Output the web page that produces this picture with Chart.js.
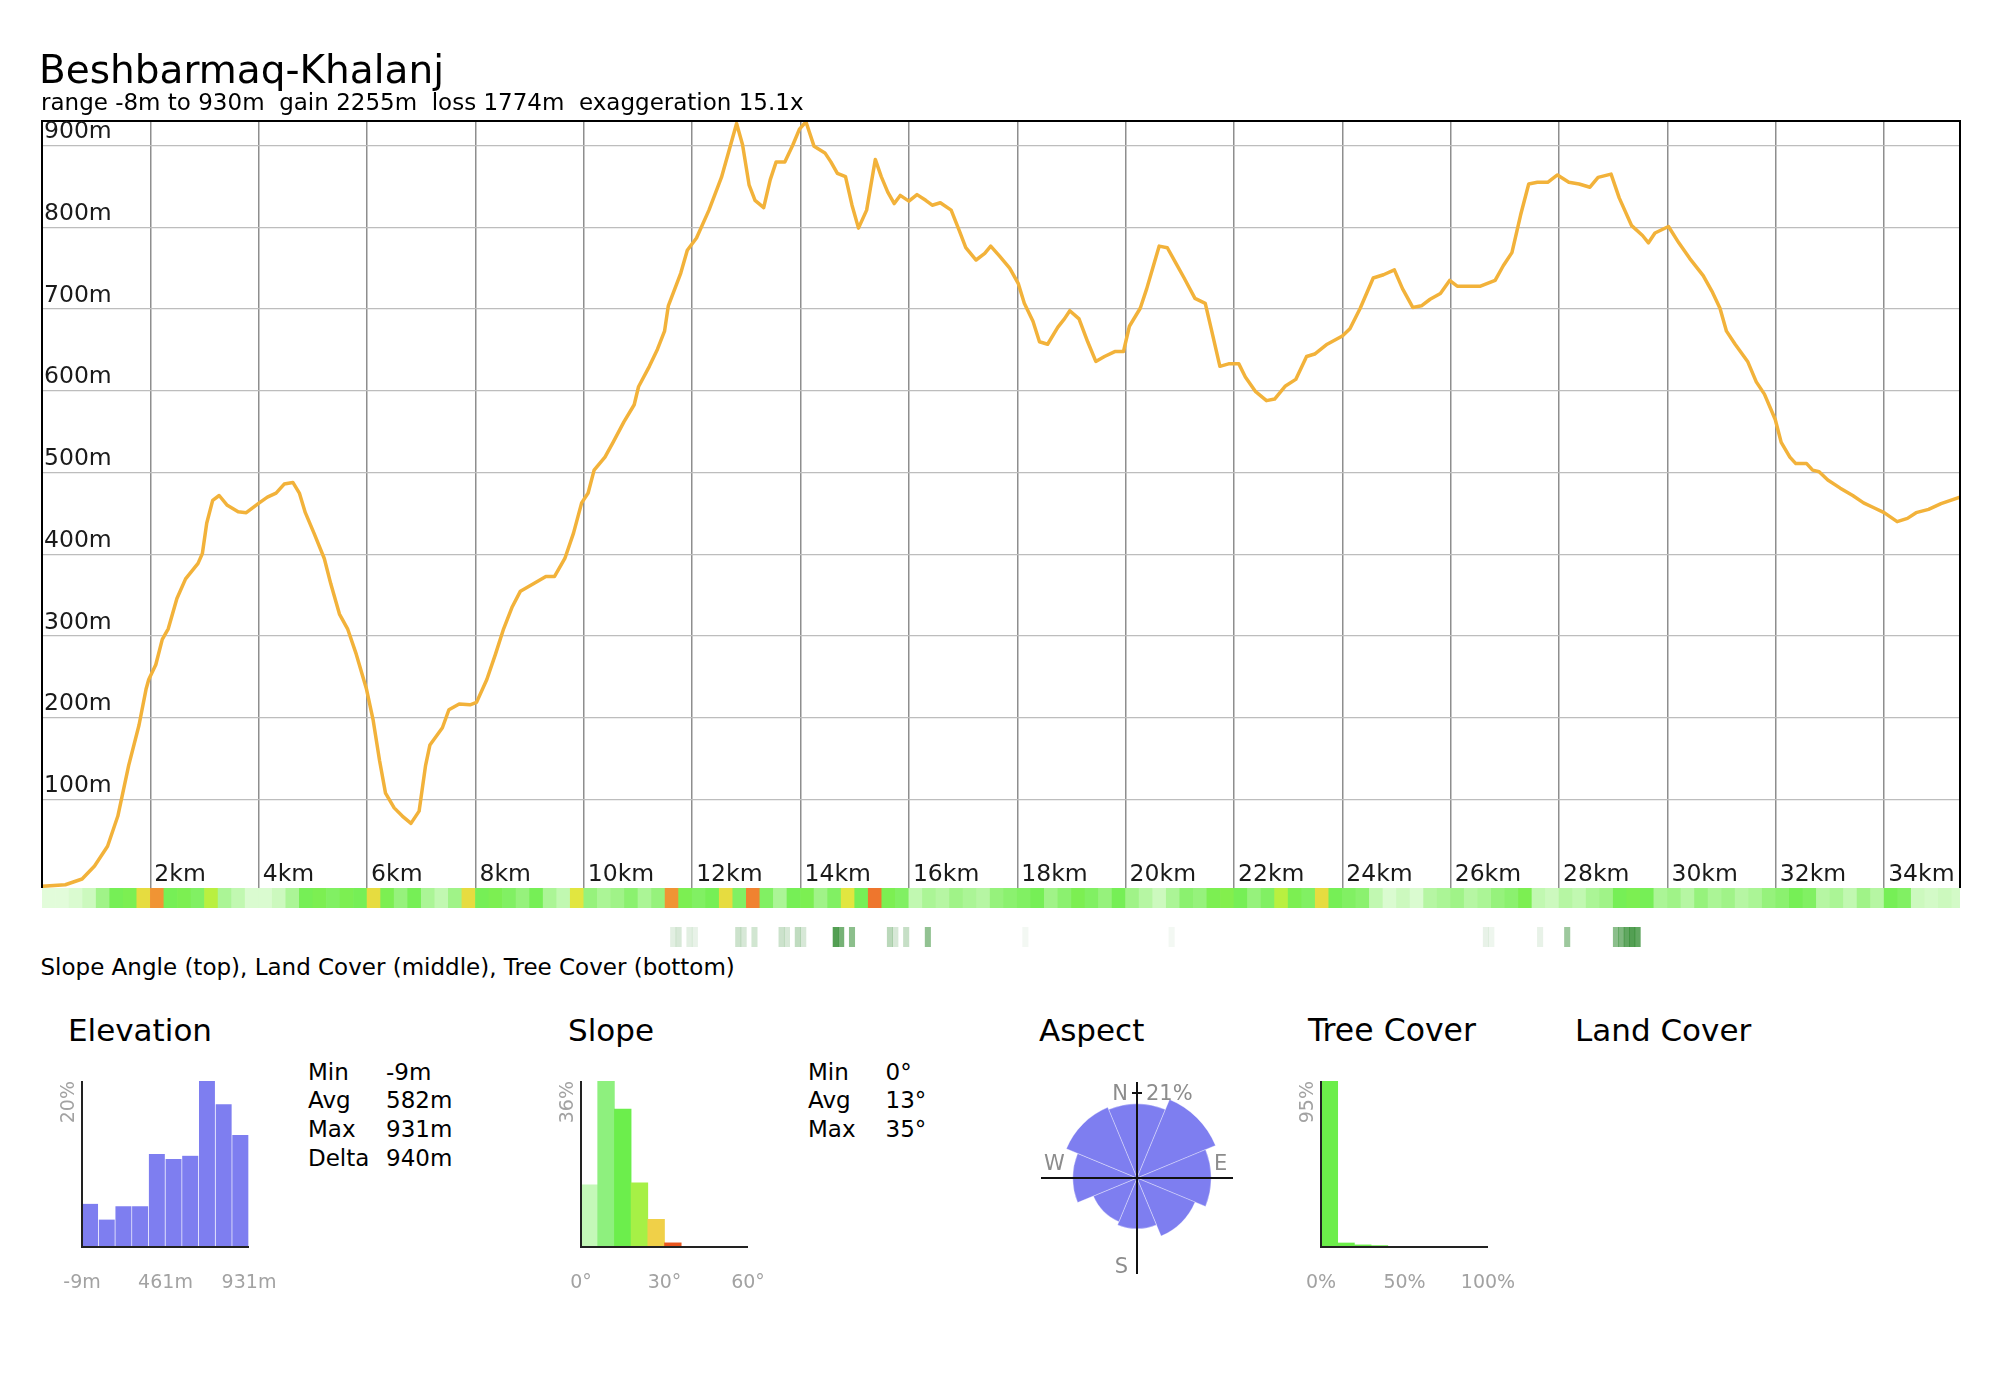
<!DOCTYPE html>
<html>
<head>
<meta charset="utf-8">
<title>Beshbarmaq-Khalanj</title>
<script src="https://cdn.jsdelivr.net/npm/chart.js@4.4.1/dist/chart.umd.min.js"></script>
<style>
  html, body { margin: 0; padding: 0; background: #fff; }
  #page { position: relative; width: 2004px; height: 1390px; overflow: hidden;
          font-family: "DejaVu Sans", "Noto Sans", sans-serif; color: #000; }
  #page canvas { position: absolute; }
  .txt { position: absolute; white-space: pre; line-height: 1; }
</style>
</head>
<body>
<div id="page"></div>
<script>
(() => {
  'use strict';

  // ---- elevation profile (distance km / elevation m)
  const distKm = [
    0.00, 0.43, 0.74, 0.97, 1.21, 1.40, 1.60, 1.79, 1.92, 1.97, 2.10, 2.22, 2.33, 2.49, 2.65, 2.88,
    2.96, 3.04, 3.15, 3.27, 3.42, 3.62, 3.77, 4.01, 4.16, 4.32, 4.47, 4.63, 4.75, 4.86, 5.02, 5.21,
    5.33, 5.49, 5.64, 5.80, 5.99, 6.11, 6.23, 6.34, 6.50, 6.65, 6.81, 6.96, 7.08, 7.16, 7.39, 7.51,
    7.70, 7.90, 8.02, 8.21, 8.37, 8.52, 8.68, 8.83, 9.07, 9.30, 9.46, 9.65, 9.81, 9.96, 10.08, 10.19,
    10.39, 10.54, 10.74, 10.93, 11.01, 11.21, 11.36, 11.49, 11.56, 11.79, 11.91, 12.08, 12.31, 12.54,
    12.66, 12.82, 12.93, 13.05, 13.16, 13.32, 13.44, 13.55, 13.71, 13.86, 13.98, 14.10, 14.25, 14.45,
    14.56, 14.68, 14.83, 14.95, 15.07, 15.22, 15.38, 15.49, 15.61, 15.73, 15.84, 16.00, 16.15, 16.31,
    16.43, 16.58, 16.78, 16.93, 17.05, 17.24, 17.40, 17.51, 17.67, 17.86, 18.02, 18.13, 18.29, 18.41,
    18.56, 18.75, 18.87, 18.97, 19.14, 19.30, 19.45, 19.61, 19.80, 19.96, 20.07, 20.27, 20.39, 20.50,
    20.62, 20.77, 20.93, 21.08, 21.28, 21.47, 21.59, 21.74, 21.90, 22.09, 22.21, 22.40, 22.60, 22.75,
    22.95, 23.14, 23.34, 23.49, 23.72, 24.00, 24.14, 24.33, 24.57, 24.76, 24.96, 25.11, 25.30, 25.46,
    25.62, 25.81, 25.98, 26.12, 26.35, 26.55, 26.82, 26.97, 27.13, 27.29, 27.44, 27.60, 27.79, 27.97,
    28.18, 28.37, 28.57, 28.72, 28.96, 29.11, 29.34, 29.54, 29.65, 29.77, 30.02, 30.21, 30.41, 30.66,
    30.82, 30.97, 31.09, 31.25, 31.48, 31.64, 31.79, 31.99, 32.10, 32.26, 32.37, 32.57, 32.68, 32.80,
    32.96, 33.19, 33.42, 33.62, 33.81, 34.00, 34.24, 34.43, 34.59, 34.82, 35.05, 35.40
  ];
  const elevM = [
    -6, -4, 3, 19, 43, 80, 142, 191, 235, 247, 265, 296, 309, 346, 370, 389,
    401, 438, 466, 472, 460, 452, 451, 463, 470, 475, 486, 488, 475, 451, 426, 395,
    364, 327, 309, 278, 235, 198, 148, 108, 90, 80, 71, 86, 142, 167, 188, 210,
    217, 216, 219, 247, 278, 309, 336, 355, 364, 373, 373, 395, 426, 463, 475, 503,
    519, 537, 562, 583, 605, 630, 651, 673, 704, 744, 772, 787, 821, 861,
    889, 927, 901, 852, 833, 824, 858, 880, 880, 901, 920, 929, 899, 891,
    880, 866, 862, 827, 799, 821, 883, 862, 843, 829, 839, 832, 840, 833,
    827, 830, 821, 796, 775, 760, 768, 777, 765, 750, 731, 707, 685, 660,
    657, 678, 688, 698, 688, 660, 636, 642, 648, 648, 679, 701, 725, 750,
    777, 775, 756, 738, 713, 707, 673, 630, 633, 633, 617, 599, 588, 590,
    606, 614, 642, 645, 657, 667, 676, 701, 738, 742, 748, 725, 702, 704,
    712, 719, 735, 728, 728, 728, 735, 753, 769, 815, 853, 855, 855, 864,
    855, 853, 849, 861, 865, 836, 802, 790, 781, 793, 801, 781, 762, 741,
    722, 701, 673, 657, 636, 611, 596, 565, 537, 519, 511, 511, 503, 501,
    491, 481, 472, 463, 457, 451, 440, 444, 451, 455, 462, 470
  ];
  const distTicksKm = [2, 4, 6, 8, 10, 12, 14, 16, 18, 20, 22, 24, 26, 28, 30, 32, 34];
  const elevTicksM  = [100, 200, 300, 400, 500, 600, 700, 800, 900];

  // ---- slope angle band: degrees per 0.25 km sample
  const SLOPE_STEP_KM = 0.25;
  const slopeDeg = [
     2,  2,  3,  5,  9, 13, 14, 24, 29, 13, 14, 12, 20,  8,  6,  3,  3,  5,  8, 13,
    14, 12, 14, 13, 24, 14, 10, 13,  8,  6,  9, 24, 13, 14, 12, 10, 13,  8,  6, 23,
    10,  8,  9, 11,  8, 10, 29, 14, 12, 13, 24, 12, 30, 12,  8, 13, 14,  9, 12, 23,
    13, 31, 14, 12,  6,  8,  7,  9,  8,  7, 10, 11, 12, 13,  9, 11, 14, 12, 10, 13,
     9,  7,  5,  8, 11, 10, 14, 15, 13, 10, 12, 20, 14, 12, 24, 13, 12, 11,  6,  3,
     5,  3,  7,  8,  9,  7,  8, 10, 11, 14,  6,  5,  7,  6,  8,  9, 13, 14, 13,  8,
     9,  7, 10,  8,  9,  7,  8, 10, 11, 13, 12,  7,  8,  6,  9,  7, 13, 12,  5,  4,
     5,  4
  ];

  // ---- tree cover band: 0.1 km samples that have any cover (%)
  const treeKm    = [11.6, 11.7, 11.9, 12.0, 12.8, 12.9, 13.1, 13.6, 13.7, 13.9, 14.0, 14.6, 14.7,
                     14.9, 15.6, 15.7, 15.9, 16.3, 18.1, 20.8, 26.6, 26.7, 27.6, 28.1,
                     29.0, 29.1, 29.2, 29.3, 29.4];
  const treeCover = [10, 14, 10, 8, 18, 14, 16, 18, 14, 22, 14, 60, 48,
                     40, 24, 14, 20, 38, 4, 4, 8, 6, 8, 34,
                     40, 45, 55, 60, 55];

  // ---- summary histograms
  const elevBins = ['-9', '85', '179', '273', '367', '461', '555', '649', '743', '837'];
  const elevPct  = [5.2, 3.3, 4.9, 4.9, 11.2, 10.6, 11.0, 20.0, 17.2, 13.5];
  const elevAxisLabels = ['-9m', '461m', '931m'];
  const elevStatNames  = ['Min', 'Avg', 'Max', 'Delta'];
  const elevStatValues = ['-9m', '582m', '931m', '940m'];

  const slopeBins = ['0', '6', '12', '18', '24', '30', '36', '42', '48', '54'];
  const slopePct  = [13.5, 36.0, 29.9, 13.9, 6.0, 0.9, 0, 0, 0, 0];
  const slopeAxisLabels = ['0°', '30°', '60°'];
  const slopeStatNames  = ['Min', 'Avg', 'Max'];
  const slopeStatValues = ['0°', '13°', '35°'];

  const aspectDirs = ['N', 'NE', 'E', 'SE', 'S', 'SW', 'W', 'NW'];
  const aspectPct  = [16, 21, 16, 11.5, 7.5, 6.5, 12, 17];

  const treeBins = ['0', '10', '20', '30', '40', '50', '60', '70', '80', '90'];
  const treePct  = [95, 2.3, 1.2, 0.8, 0.4, 0.2, 0.1, 0, 0, 0];
  const treeAxisLabels = ['0%', '50%', '100%'];

  // ---- styles / layout
  const FONT = '"DejaVu Sans", "Noto Sans", sans-serif';
  const LINE = 'rgb(242,178,58)';
  const BLUE = 'rgb(126,126,240)';
  const GREY = '#a2a2a2';
  const PLOT = { left: 42, top: 121, right: 1960, bottom: 888 };
  const X_MAX = 35.4;
  const slopeBarColors = ['#c4f8b8', '#8ef07e', '#6cee4c', '#a6f046', '#f0d048', '#ea561e',
                          '#eee', '#eee', '#eee', '#eee'];
  const slopeStops = [
    [0, [240, 254, 236]], [5, [204, 249, 190]], [9, [160, 243, 136]], [13, [118, 239, 86]],
    [18, [150, 240, 64]], [22, [220, 240, 64]], [26, [240, 200, 64]], [30, [240, 130, 48]],
    [35, [232, 72, 32]]
  ];

  function slopeColor(d) {
    for (let i = 1; i < slopeStops.length; i++) {
      const [d1, c1] = slopeStops[i];
      const [d0, c0] = slopeStops[i - 1];
      if (d <= d1 || i === slopeStops.length - 1) {
        const t = Math.max(0, Math.min(1, (d - d0) / (d1 - d0)));
        const c = c0.map((v, k) => Math.round(v + (c1[k] - v) * t));
        return `rgb(${c.join(',')})`;
      }
    }
  }

  const page = document.getElementById('page');

  function addCanvas(id, x, y, w, h) {
    const c = document.createElement('canvas');
    c.id = id;
    c.width = w; c.height = h;
    c.style.left = x + 'px'; c.style.top = y + 'px';
    c.style.width = w + 'px'; c.style.height = h + 'px';
    page.appendChild(c);
    return c;
  }

  // place text by its baseline (DejaVu Sans: baseline sits 0.846em below the top of a 1em line box)
  function addText(str, x, baseline, size, color) {
    const d = document.createElement('div');
    d.className = 'txt';
    d.textContent = str;
    d.style.fontSize = size + 'px';
    d.style.left = x + 'px';
    d.style.top = (baseline - 0.846 * size) + 'px';
    d.style.color = color || '#000';
    page.appendChild(d);
  }

  const base = {
    responsive: false,
    animation: false,
    events: [],
  };
  const noLegend = { legend: { display: false }, tooltip: { enabled: false } };

  // ---- main profile chart
  const profileDecor = {
    id: 'profileDecor',
    afterDraw(chart) {
      const { ctx, chartArea: a, scales: { x, y } } = chart;
      ctx.save();
      ctx.strokeStyle = '#000';
      ctx.lineWidth = 2;
      ctx.beginPath();
      ctx.moveTo(a.left, a.bottom);
      ctx.lineTo(a.left, a.top);
      ctx.lineTo(a.right, a.top);
      ctx.lineTo(a.right, a.bottom);
      ctx.stroke();

      ctx.fillStyle = '#1a1a1a';
      ctx.font = '23.5px ' + FONT;
      ctx.textAlign = 'left';
      ctx.textBaseline = 'alphabetic';
      y.ticks.forEach(t => {
        ctx.fillText(t.value + 'm', a.left + 2, y.getPixelForValue(t.value) - 7.5);
      });
      const zeroY = y.getPixelForValue(0);
      x.ticks.forEach(t => {
        ctx.fillText(t.value + 'km', x.getPixelForValue(t.value) + 4, zeroY);
      });
      ctx.restore();
    }
  };

  new Chart(addCanvas('profile', 0, 0, 2004, 900), {
    type: 'line',
    data: {
      datasets: [{
        data: distKm.map((k, i) => ({ x: k, y: elevM[i] })),
        borderColor: LINE,
        borderWidth: 3.5,
        borderJoinStyle: 'round',
        borderCapStyle: 'round',
        pointRadius: 0,
        tension: 0,
        fill: false
      }]
    },
    options: {
      ...base,
      layout: { padding: { left: PLOT.left, top: PLOT.top, right: 2004 - PLOT.right, bottom: 900 - PLOT.bottom }, autoPadding: false },
      plugins: noLegend,
      scales: {
        x: {
          type: 'linear', min: 0, max: X_MAX, offset: false,
          afterBuildTicks: s => { s.ticks = distTicksKm.map(v => ({ value: v })); },
          ticks: { display: false },
          grid: { color: '#8e8e8e', lineWidth: 1.5, drawTicks: false },
          border: { display: false }
        },
        y: {
          type: 'linear', min: -8, max: 930,
          afterBuildTicks: s => { s.ticks = elevTicksM.map(v => ({ value: v })); },
          ticks: { display: false },
          grid: { color: '#bdbdbd', lineWidth: 1.3, drawTicks: false },
          border: { display: false }
        }
      }
    },
    plugins: [profileDecor]
  });

  // ---- slope / tree cover bands under the profile
  function bandChart(id, top, points, colors) {
    return new Chart(addCanvas(id, PLOT.left, top, PLOT.right - PLOT.left, 20), {
      type: 'bar',
      data: {
        datasets: [{
          data: points,
          backgroundColor: colors,
          borderWidth: 0,
          barPercentage: 1,
          categoryPercentage: 1
        }]
      },
      options: {
        ...base,
        layout: { padding: 0, autoPadding: false },
        plugins: noLegend,
        scales: {
          x: { type: 'linear', min: 0, max: X_MAX, offset: false, display: false, ticks: { stepSize: 5 } },
          y: { min: 0, max: 1, display: false }
        }
      }
    });
  }

  bandChart('slopeBand', 888,
    slopeDeg.map((d, i) => ({ x: i * SLOPE_STEP_KM + SLOPE_STEP_KM / 2, y: 1 })),
    slopeDeg.map(slopeColor));

  bandChart('treeBand', 927,
    treeKm.map(k => ({ x: k + 0.05, y: 1 })),
    treeCover.map(c => `rgba(40,135,40,${Math.min(1, c / 75).toFixed(3)})`));

  // ---- small histograms
  const histAxes = {
    id: 'histAxes',
    afterDraw(chart, args, opts) {
      const { ctx, chartArea: a } = chart;
      ctx.save();
      ctx.strokeStyle = '#222';
      ctx.lineWidth = 2;
      ctx.beginPath();
      ctx.moveTo(a.left, a.top);
      ctx.lineTo(a.left, a.bottom);
      ctx.lineTo(a.right, a.bottom);
      ctx.stroke();

      ctx.fillStyle = GREY;
      ctx.font = '19px ' + FONT;
      ctx.textAlign = 'center';
      ctx.textBaseline = 'alphabetic';
      const xs = [a.left, (a.left + a.right) / 2, a.right];
      opts.xLabels.forEach((t, i) => ctx.fillText(t, xs[i], a.bottom + 41));

      ctx.translate(a.left - 13, a.top);
      ctx.rotate(-Math.PI / 2);
      ctx.textAlign = 'right';
      ctx.textBaseline = 'middle';
      ctx.fillText(opts.yLabel, 0, 0);
      ctx.restore();
    }
  };

  function histChart(id, left, labels, values, yMax, colors, xLabels, sep) {
    // plot box is 167 x 166, canvas adds room for the axis labels
    return new Chart(addCanvas(id, left - 42, 1070, 260, 230), {
      type: 'bar',
      data: {
        labels,
        datasets: [{
          data: values,
          backgroundColor: colors,
          borderColor: 'rgba(255,255,255,0.55)',
          borderWidth: sep ? { left: 0, right: 1, top: 0, bottom: 0 } : 0,
          barPercentage: 1,
          categoryPercentage: 1
        }]
      },
      options: {
        ...base,
        layout: { padding: { left: 42, top: 11, right: 51, bottom: 53 }, autoPadding: false },
        plugins: { ...noLegend, histAxes: { xLabels, yLabel: yMax + '%' } },
        scales: {
          x: { display: false },
          y: { min: 0, max: yMax, display: false }
        }
      },
      plugins: [histAxes]
    });
  }

  histChart('elevHist', 82, elevBins, elevPct, 20, BLUE, elevAxisLabels, true);
  histChart('slopeHist', 581, slopeBins, slopePct, 36, slopeBarColors, slopeAxisLabels, false);
  histChart('treeHist', 1321, treeBins, treePct, 95, '#6cee4a', treeAxisLabels, false);

  // ---- aspect rose (petal area proportional to share)
  const roseAxes = {
    id: 'roseAxes',
    afterDraw(chart, args, opts) {
      const { ctx } = chart;
      const r = chart.scales.r;
      const cx = r.xCenter, cy = r.yCenter, R = r.drawingArea;
      const L = 96;
      ctx.save();
      ctx.strokeStyle = '#111';
      ctx.lineWidth = 2;
      ctx.beginPath();
      ctx.moveTo(cx - L, cy); ctx.lineTo(cx + L, cy);
      ctx.moveTo(cx, cy - L); ctx.lineTo(cx, cy + L);
      ctx.moveTo(cx - 5, cy - R); ctx.lineTo(cx + 5, cy - R);
      ctx.stroke();

      ctx.fillStyle = '#8c8c8c';
      ctx.font = '21px ' + FONT;
      ctx.textBaseline = 'alphabetic';
      ctx.textAlign = 'right';
      ctx.fillText('N', cx - 9, cy - 78);
      ctx.fillText('S', cx - 9, cy + 95);
      ctx.textAlign = 'left';
      ctx.fillText(opts.maxLabel, cx + 9, cy - 78);
      ctx.fillText('W', cx - 93, cy - 8);
      ctx.fillText('E', cx + 77, cy - 8);
      ctx.restore();
    }
  };

  const aspectMax = Math.max(...aspectPct);
  new Chart(addCanvas('aspect', 1017, 1058, 240, 240), {
    type: 'polarArea',
    data: {
      labels: aspectDirs,
      datasets: [{
        data: aspectPct.map(Math.sqrt),
        backgroundColor: BLUE,
        borderColor: 'rgba(255,255,255,0.35)',
        borderWidth: 1
      }]
    },
    options: {
      ...base,
      layout: { padding: 34.3, autoPadding: false },
      plugins: { ...noLegend, roseAxes: { maxLabel: aspectMax + '%' } },
      scales: {
        r: { display: false, min: 0, max: Math.sqrt(aspectMax), startAngle: -22.5 }
      }
    },
    plugins: [roseAxes]
  });

  // ---- text
  addText('Beshbarmaq-Khalanj', 39, 83, 39);
  addText('range -8m to 930m  gain 2255m  loss 1774m  exaggeration 15.1x', 41, 110.5, 23);
  addText('Slope Angle (top), Land Cover (middle), Tree Cover (bottom)', 40.5, 975, 23);

  addText('Elevation', 68, 1041.5, 31);
  addText('Slope', 568, 1041.5, 31);
  addText('Aspect', 1039, 1041.5, 31);
  addText('Tree Cover', 1308, 1041.5, 31.5);
  addText('Land Cover', 1575, 1041.5, 31);

  const statRows = [1080, 1108.5, 1137, 1166];
  elevStatNames.forEach((n, i) => {
    addText(n, 308, statRows[i], 23);
    addText(elevStatValues[i], 386, statRows[i], 23);
  });
  slopeStatNames.forEach((n, i) => {
    addText(n, 808, statRows[i], 23);
    addText(slopeStatValues[i], 885.5, statRows[i], 23);
  });
})();
</script>
</body>
</html>
